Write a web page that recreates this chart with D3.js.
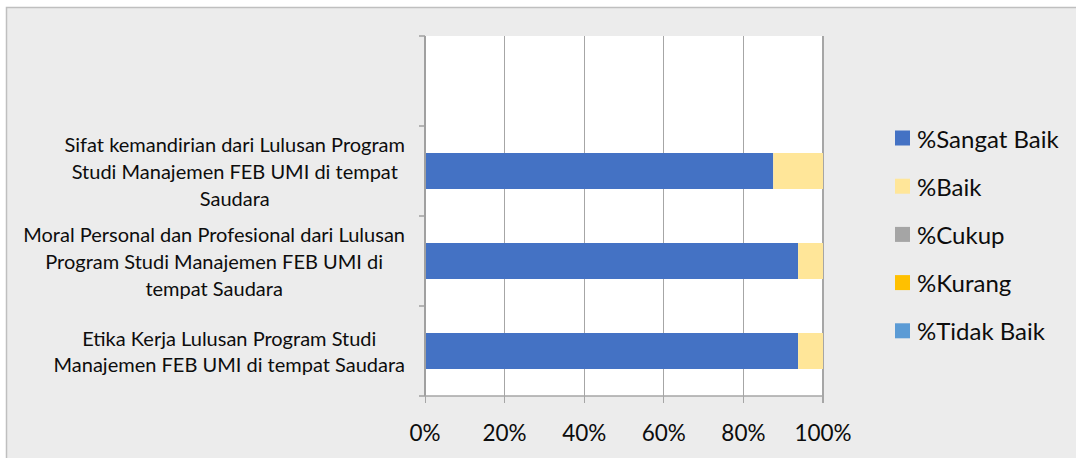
<!DOCTYPE html>
<html>
<head>
<meta charset="utf-8">
<script src="https://cdn.jsdelivr.net/npm/d3@7"></script>
<style>
  html, body { margin: 0; padding: 0; background: #fff; }
  svg { display: block; }
  text { font-family: Lato, "Open Sans", sans-serif; fill: #0d0d0d; }
</style>
</head>
<body>
<svg id="chart" width="1076" height="458"></svg>
<script>
// ---- data ----
const categories = [
  "",
  "Sifat kemandirian dari Lulusan Program Studi Manajemen FEB UMI di tempat Saudara",
  "Moral Personal dan Profesional dari Lulusan Program Studi Manajemen FEB UMI di tempat Saudara",
  "Etika Kerja Lulusan Program Studi Manajemen FEB UMI di tempat Saudara"
];
const categoryLines = [
  [],
  ["Sifat kemandirian dari Lulusan Program", "Studi Manajemen FEB UMI di tempat", "Saudara"],
  ["Moral Personal dan Profesional dari Lulusan", "Program Studi Manajemen FEB UMI di", "tempat Saudara"],
  ["Etika Kerja Lulusan Program Studi", "Manajemen FEB UMI di tempat Saudara"]
];
const seriesNames = ["%Sangat Baik", "%Baik", "%Cukup", "%Kurang", "%Tidak Baik"];
const seriesColors = ["#4472C4", "#FFE699", "#A5A5A5", "#FFC000", "#5B9BD5"];
const sangatBaik = [null, 87.5, 93.75, 93.75];
const baik       = [null, 12.5, 6.25, 6.25];
const cukup      = [null, 0, 0, 0];
const kurang     = [null, 0, 0, 0];
const tidakBaik  = [null, 0, 0, 0];
const xTicks = [0, 20, 40, 60, 80, 100];

// ---- layout ----
const svg = d3.select("#chart");
const plot = { left: 425, right: 823, top: 36, bottom: 396 };

svg.append("rect")
  .attr("x", 6.5).attr("y", 7.5)
  .attr("width", 1080).attr("height", 460)
  .attr("fill", "#ececec").attr("stroke", "#bfbfbf").attr("stroke-width", 1.5);

svg.append("rect")
  .attr("x", plot.left).attr("y", plot.top)
  .attr("width", plot.right - plot.left).attr("height", plot.bottom - plot.top)
  .attr("fill", "#ffffff");

const x = d3.scaleLinear().domain([0, 100]).range([plot.left, plot.right]);
const y = d3.scaleBand().domain(d3.range(categories.length))
  .range([plot.top, plot.bottom]).paddingInner(0.6).paddingOuter(0.3);
const step = y.step();

// gridlines
svg.append("g").selectAll("line").data(xTicks).join("line")
  .attr("x1", d => x(d)).attr("x2", d => x(d))
  .attr("y1", plot.top).attr("y2", plot.bottom + 7)
  .attr("stroke", "#a6a6a6")
  .attr("stroke-width", d => (d === 100 ? 2 : 1))
  .attr("shape-rendering", "crispEdges");

// stacked bars
const table = categories.map((c, i) => ({
  i,
  "%Sangat Baik": sangatBaik[i] || 0,
  "%Baik": baik[i] || 0,
  "%Cukup": cukup[i] || 0,
  "%Kurang": kurang[i] || 0,
  "%Tidak Baik": tidakBaik[i] || 0
}));
const stacked = d3.stack().keys(seriesNames)(table);
svg.append("g").selectAll("g").data(stacked).join("g")
  .attr("fill", (d, k) => seriesColors[k])
  .selectAll("rect").data(d => d.filter(p => p[1] > p[0])).join("rect")
  .attr("x", p => x(p[0]))
  .attr("width", p => x(p[1]) - x(p[0]))
  .attr("y", p => y(p.data.i))
  .attr("height", y.bandwidth());

// y axis line and ticks at band boundaries
const boundaries = d3.range(categories.length + 1).map(k => plot.top + k * step);
svg.append("line")
  .attr("x1", plot.left).attr("x2", plot.left)
  .attr("y1", plot.top).attr("y2", plot.bottom)
  .attr("stroke", "#a0a0a0").attr("stroke-width", 2);
svg.append("g").selectAll("line").data(boundaries).join("line")
  .attr("x1", plot.left - 6).attr("x2", plot.left)
  .attr("y1", d => d).attr("y2", d => d)
  .attr("stroke", "#a0a0a0").attr("stroke-width", 1.5);
// x axis line
svg.append("line")
  .attr("x1", plot.left).attr("x2", plot.right)
  .attr("y1", plot.bottom).attr("y2", plot.bottom)
  .attr("stroke", "#a6a6a6").attr("stroke-width", 1.5);

// x tick labels
svg.append("g").selectAll("text").data(xTicks).join("text")
  .attr("x", d => x(d)).attr("y", 432)
  .attr("text-anchor", "middle")
  .attr("dominant-baseline", "central")
  .attr("font-size", 22.5)
  .text(d => d + "%");

// category labels (block right-aligned, lines centered)
const labelRight = 405;
const lineH = 26.8;
categoryLines.forEach((lines, i) => {
  if (!lines.length) return;
  const g = svg.append("g");
  const texts = g.selectAll("text").data(lines).join("text")
    .attr("font-size", 20)
    .attr("text-anchor", "middle")
    .attr("dominant-baseline", "central")
    .attr("y", (d, k) => y(i) + y.bandwidth() / 2 + (k - (lines.length - 1) / 2) * lineH)
    .text(d => d);
  let maxW = 0;
  texts.each(function () { maxW = Math.max(maxW, this.getComputedTextLength()); });
  texts.attr("x", labelRight - maxW / 2);
});

// legend
const legend = svg.append("g").selectAll("g").data(seriesNames).join("g")
  .attr("transform", (d, k) => `translate(895, ${138 + k * 48.2})`);
legend.append("rect")
  .attr("x", 0).attr("y", -7.5).attr("width", 15).attr("height", 15)
  .attr("fill", (d, k) => seriesColors[k]);
legend.append("text")
  .attr("x", 22).attr("y", 0)
  .attr("dominant-baseline", "central")
  .attr("font-size", 24)
  .text(d => d);
</script>
</body>
</html>
